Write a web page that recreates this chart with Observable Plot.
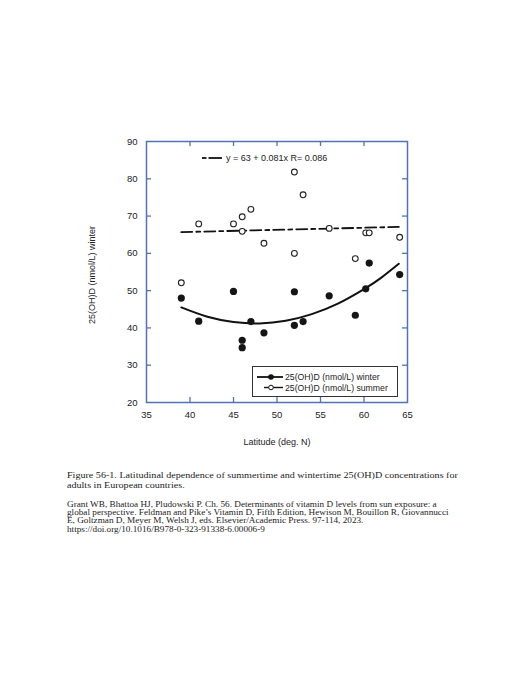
<!DOCTYPE html>
<html>
<head>
<meta charset="utf-8">
<script src="https://cdn.jsdelivr.net/npm/d3@7"></script>
<script src="https://cdn.jsdelivr.net/npm/@observablehq/plot@0.6"></script>
<style>
  html, body { margin: 0; padding: 0; background: #ffffff; }
  #page { position: relative; width: 525px; height: 680px; overflow: hidden; }
  #chart { position: absolute; left: 0; top: 0; }
  #overlay { position: absolute; left: 0; top: 0; pointer-events: none; }
  .cap { position: absolute; left: 67px; font-family: "Liberation Serif", "Times New Roman", serif; color: #222; white-space: nowrap; transform-origin: 0 0; }
  #cap1 { top: 469.5px; font-size: 8.8px; line-height: 10.5px; transform: scaleX(1.147); }
  #cap2 { top: 501px; font-size: 7.8px; line-height: 8.2px; transform: scaleX(1.18); }
</style>
</head>
<body>
<div id="page">
  <div id="chart"></div>
  <svg id="overlay" width="525" height="460"></svg>
  <div class="cap" id="cap1"></div>
  <div class="cap" id="cap2"></div>
</div>
<script>
// ---- data ----
const summerLat = [39, 41, 45, 46, 46, 47, 48.5, 52, 52, 53, 56, 59, 60.2, 60.6, 64.1];
const summerVal = [52.1, 67.9, 67.9, 69.8, 65.9, 71.8, 62.7, 81.8, 60.0, 75.7, 66.7, 58.6, 65.5, 65.5, 64.3];
const winterLat = [39, 41, 45, 46, 46, 47, 48.5, 52, 52, 53, 56, 59, 60.2, 60.6, 64.1];
const winterVal = [48.0, 41.8, 49.8, 36.7, 34.7, 41.7, 38.7, 49.7, 40.7, 41.7, 48.6, 43.4, 50.5, 57.4, 54.3];
// fitted curves as drawn in the reference
const winterFitLat = [39, 42, 45, 48, 51, 54, 57, 60, 62, 64];
const winterFitVal = [45.5, 43.0, 41.6, 41.2, 41.9, 43.7, 46.5, 50.4, 53.5, 57.2];
const summerFitLat = [39, 64];
const summerFitVal = [65.7, 67.1];
// ticks
const xTickLabels = [35, 40, 45, 50, 55, 60, 65];
const xTickMarks = [40, 45, 50, 55, 60];
const yTickLabels = [20, 30, 40, 50, 60, 70, 80, 90];
const yTickMarks = [30, 40, 50, 60, 70, 80];
// texts
const xLabel = "Latitude (deg. N)";
const yLabel = "25(OH)D (nmol/L) winter";
const eqText = "y = 63 + 0.081x   R= 0.086";
const legendWinter = "25(OH)D (nmol/L) winter";
const legendSummer = "25(OH)D (nmol/L) summer";
const captionLines = [
  "Figure 56-1. Latitudinal dependence of summertime and wintertime 25(OH)D concentrations for",
  "adults in European countries."
];
const citationLines = [
  "Grant WB, Bhattoa HJ, Pludowski P. Ch. 56. Determinants of vitamin D levels from sun exposure: a",
  "global perspective. Feldman and Pike\u2019s Vitamin D, Fifth Edition, Hewison M, Bouillon R, Giovannucci",
  "E, Goltzman D, Meyer M, Welsh J, eds. Elsevier/Academic Press. 97-114, 2023.",
  "https://doi.org/10.1016/B978-0-323-91338-6.00006-9"
];

const summer = summerLat.map((x, i) => ({x, y: summerVal[i]}));
const winter = winterLat.map((x, i) => ({x, y: winterVal[i]}));
const winterFit = winterFitLat.map((x, i) => ({x, y: winterFitVal[i]}));
const summerFit = summerFitLat.map((x, i) => ({x, y: summerFitVal[i]}));

const W = 525, H = 460, mL = 146, mR = 118, mT = 141, mB = 58;
const fw = W - mL - mR, fh = H - mT - mB;
const frameColor = "#4f73b3";
const tickLen = 5;

const chart = Plot.plot({
  width: W, height: H,
  marginLeft: mL, marginRight: mR, marginTop: mT, marginBottom: mB,
  style: {fontFamily: "'Liberation Sans', Arial, sans-serif", fontSize: "9.5px", color: "#222", background: "transparent"},
  x: {domain: [35, 65], label: null},
  y: {domain: [20, 90], label: null},
  marks: [
    Plot.axisX(xTickLabels, {tickSize: 0, tickPadding: 9, fontSize: 9.5, label: null}),
    Plot.axisY(yTickLabels, {tickSize: 0, tickPadding: 9, fontSize: 9.5, label: null}),
    Plot.tickX(xTickMarks, {x: d => d, stroke: frameColor, strokeWidth: 1.3, insetTop: fh - tickLen}),
    Plot.tickX(xTickMarks, {x: d => d, stroke: frameColor, strokeWidth: 1.3, insetBottom: fh - tickLen}),
    Plot.tickY(yTickMarks, {y: d => d, stroke: frameColor, strokeWidth: 1.3, insetRight: fw - tickLen}),
    Plot.tickY(yTickMarks, {y: d => d, stroke: frameColor, strokeWidth: 1.3, insetLeft: fw - tickLen}),
    Plot.frame({stroke: frameColor, strokeWidth: 1.5}),
    Plot.line(summerFit, {x: "x", y: "y", stroke: "#111", strokeWidth: 1.8, strokeDasharray: "11,4,4,4"}),
    Plot.line(winterFit, {x: "x", y: "y", stroke: "#111", strokeWidth: 2, curve: "natural"}),
    Plot.dot(summer, {x: "x", y: "y", r: 2.9, stroke: "#222", strokeWidth: 1.1, fill: "white"}),
    Plot.dot(winter, {x: "x", y: "y", r: 3.6, fill: "#151515", stroke: "none"}),
    Plot.text([xLabel], {frameAnchor: "bottom", dy: 42, fontSize: 9, fill: "#222"}),
    Plot.text([yLabel], {frameAnchor: "left", textAnchor: "middle", dx: -54, dy: 3, rotate: -90, fontSize: 9, fill: "#222"})
  ]
});
document.getElementById("chart").appendChild(chart);

// legends overlay
const ov = d3.select("#overlay");
const font = "'Liberation Sans', Arial, sans-serif";
// equation legend (top)
ov.append("line").attr("x1", 202).attr("x2", 206.5).attr("y1", 158).attr("y2", 158).attr("stroke", "#111").attr("stroke-width", 1.8);
ov.append("line").attr("x1", 208.5).attr("x2", 222).attr("y1", 158).attr("y2", 158).attr("stroke", "#111").attr("stroke-width", 1.8);
ov.append("text").attr("x", 226).attr("y", 158).attr("dy", "0.35em").attr("font-family", font).attr("font-size", 9).attr("fill", "#222").text(eqText);
// series legend (bottom right)
ov.append("rect").attr("x", 252.5).attr("y", 366.5).attr("width", 145).attr("height", 30).attr("fill", "white").attr("stroke", "#333").attr("stroke-width", 1);
ov.append("line").attr("x1", 257).attr("x2", 283).attr("y1", 377).attr("y2", 377).attr("stroke", "#111").attr("stroke-width", 1.8);
ov.append("circle").attr("cx", 271).attr("cy", 377).attr("r", 2.8).attr("fill", "#111");
ov.append("text").attr("x", 285).attr("y", 377).attr("dy", "0.35em").attr("font-family", font).attr("font-size", 8.7).attr("fill", "#222").text(legendWinter);
ov.append("line").attr("x1", 264).attr("x2", 283).attr("y1", 387.5).attr("y2", 387.5).attr("stroke", "#111").attr("stroke-width", 1.4);
ov.append("circle").attr("cx", 271).attr("cy", 387.5).attr("r", 2.3).attr("fill", "white").attr("stroke", "#111").attr("stroke-width", 1);
ov.append("text").attr("x", 285).attr("y", 387.5).attr("dy", "0.35em").attr("font-family", font).attr("font-size", 8.7).attr("fill", "#222").text(legendSummer);

// captions
document.getElementById("cap1").innerHTML = captionLines.join("<br>");
document.getElementById("cap2").innerHTML = citationLines.join("<br>");
</script>
</body>
</html>
